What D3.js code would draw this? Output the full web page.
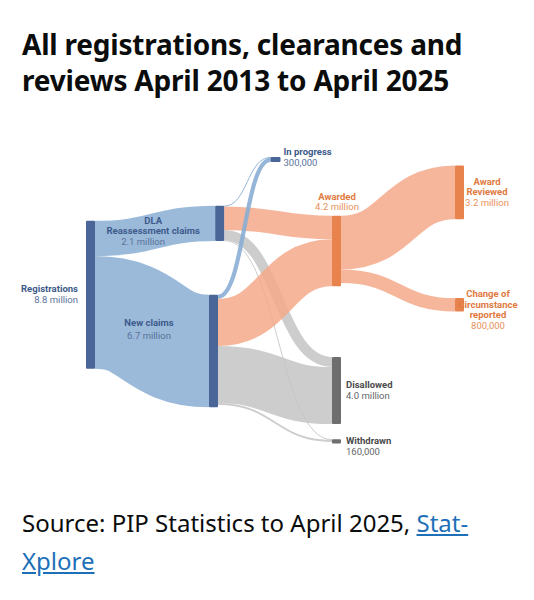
<!DOCTYPE html>
<html><head><meta charset="utf-8">
<script src="https://cdn.jsdelivr.net/npm/d3@7/dist/d3.min.js"></script>
<style>
body{margin:0;background:#fff;font-family:"Noto Sans",Arial,sans-serif;}
h1{font-size:28px;line-height:36px;margin:0;position:absolute;left:22px;top:26px;width:500px;color:#0b0c0c;font-weight:700;letter-spacing:-0.2px;}
p.src{position:absolute;left:22px;top:504px;margin:0;font-size:24px;line-height:38px;color:#0b0c0c;width:495px;}
p.src a{color:#1d70b8;text-decoration:underline;}
svg{position:absolute;left:0;top:0;}
</style></head><body>
<h1>All registrations, clearances and reviews April 2013 to April 2025</h1>
<svg id="c" width="534" height="600"></svg>
<p class="src">Source: PIP Statistics to April 2025, <a href="#">Stat-Xplore</a></p>
<script>
const nodeIds = ["reg","dla","new","prog","award","disallow","withdrawn","reviewed","coc"];
const nodeNames = [["Registrations"],["DLA","Reassessment claims"],["New claims"],["In progress"],["Awarded"],["Disallowed"],["Withdrawn"],["Award","Reviewed"],["Change of","Circumstance","reported"]];
const nodeValueLabels = ["8.8 million","2.1 million","6.7 million","300,000","4.2 million","4.0 million","160,000","3.2 million","800,000"];
const nodeGroups = ["blue","blue","blue","blue","orange","grey","grey","orange","orange"];
const nodeCols = [0,1.05,1,1.5,2,2,2,3,3];
const nodeTops = [3.8,2.9,8.2,0,3.5,11.9,16.8,0.5,8.4];
const linkSources = ["reg","reg","dla","dla","dla","dla","new","new","new","new","award","award"];
const linkTargets = ["dla","new","prog","award","disallow","withdrawn","prog","award","disallow","withdrawn","reviewed","coc"];
const linkValues = [2.1,6.7,0.05,1.4,0.6,0.05,0.25,2.8,3.4,0.11,3.2,0.8];

const colors={blue:{node:"#4a6597",link:"#8aaed4",text:"#3d5a8a",val:"#5a7299"},
 orange:{node:"#e8834e",link:"#f4a98a",text:"#e07a3f",val:"#e8915c"},
 grey:{node:"#6e6e6e",link:"#c4c4c4",text:"#4a4a4a",val:"#666"}};
const linkColor = (s,t)=> t==="prog"?colors.blue.link: (t==="award"||t==="reviewed"||t==="coc")?colors.orange.link: (nodeGroups[nodeIds.indexOf(t)]==="grey" && s!=="reg")?colors.grey.link:colors.blue.link;

const x=d3.scaleLinear().domain([0,3]).range([86,455]);
const k=16.8;
const y=d3.scaleLinear().domain([0,1]).range([157,157+k]);
const nw=9;
const svg=d3.select("#c");
const nodes=nodeIds.map((id,i)=>({id,i,x0:x(nodeCols[i]),y0:y(nodeTops[i]),inOff:0,outOff:0}));
const byId=Object.fromEntries(nodes.map(n=>[n.id,n]));
const links=linkValues.map((v,i)=>({s:byId[linkSources[i]],t:byId[linkTargets[i]],v,w:v*k}));
nodes.forEach(n=>{
  const i=d3.sum(links.filter(l=>l.t===n),l=>l.v), o=d3.sum(links.filter(l=>l.s===n),l=>l.v);
  n.h=Math.max(i,o,0.25)*k;
});
links.forEach(l=>{
  l.sy=l.s.y0+l.s.outOff+l.w/2; l.s.outOff+=l.w;
  l.ty=l.t.y0+l.t.inOff+l.w/2; l.t.inOff+=l.w;
});
const gen=d3.linkHorizontal().x(d=>d[0]).y(d=>d[1]);
svg.append("g").selectAll("path").data(links).join("path")
 .attr("d",l=>gen({source:[l.s.x0+nw,l.sy],target:[l.t.x0,l.ty]}))
 .attr("fill","none").attr("stroke",l=>linkColor(l.s.id,l.t.id))
 .attr("stroke-opacity",l=>l.t.id==="prog"?0.9:0.85)
 .attr("stroke-width",l=>Math.max(1,l.w));
svg.append("g").selectAll("rect").data(nodes).join("rect")
 .attr("x",n=>n.x0).attr("y",n=>n.y0).attr("width",n=>n.id==="prog"?10:nw).attr("height",n=>n.id==="prog"?5:n.h)
 .attr("rx",1).attr("fill",n=>colors[nodeGroups[n.i]].node);

const lab={reg:["end",-8,"mid"],dla:["middle",-62,"top"],new:["middle",-60,31],prog:["start",13,-2],
 award:["middle",5,-16],disallow:["start",14,"mid"],withdrawn:["start",14,5],reviewed:["middle",32,"mid"],coc:["middle",33,-1]};
const g=svg.append("g").style("font-family","Roboto,sans-serif").style("font-size","9.5px");
nodes.forEach(n=>{
  const [anchor,dx,dyRule]=lab[n.id];
  const lines=nodeNames[n.i]; const total=lines.length+1; const lh=10.5;
  let yStart;
  if(dyRule==="mid") yStart=n.y0+n.h/2-(total*lh)/2+8;
  else if(dyRule==="top") yStart=n.y0+18;
  else yStart=n.y0+dyRule;
  const c=colors[nodeGroups[n.i]];
  const t=g.append("text").attr("text-anchor",anchor).attr("x",n.x0+dx);
  lines.forEach((ln,j)=>t.append("tspan").attr("x",n.x0+dx).attr("y",yStart+j*lh).attr("font-weight",700).attr("fill",c.text).text(ln));
  t.append("tspan").attr("x",n.x0+dx+(n.id==="dla"?-10:0)).attr("y",yStart+lines.length*lh+(n.id==="new"?3:0)).attr("fill",c.val).text(nodeValueLabels[n.i]);
});
</script></body></html>
